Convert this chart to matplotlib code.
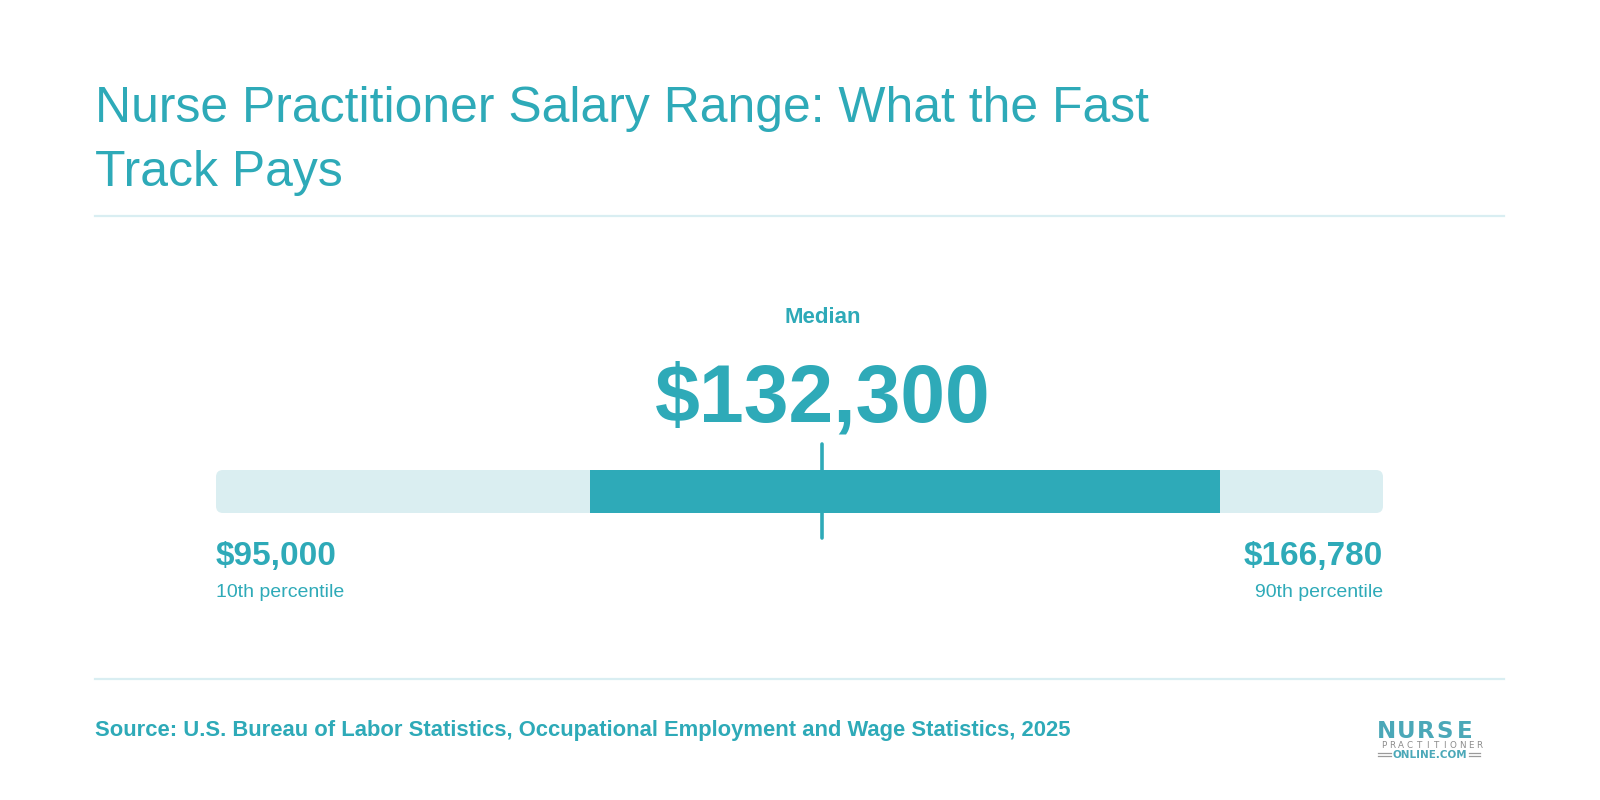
import matplotlib
matplotlib.use("Agg")
import matplotlib.pyplot as plt
from matplotlib.patches import FancyBboxPatch
from matplotlib.lines import Line2D
from matplotlib.transforms import blended_transform_factory

# wage percentiles (annual, USD)
pct_names = ["10th percentile", "Median", "90th percentile"]
pct_values = [95000, 132300, 166780]
# 25th / 75th percentile (not labelled)
iqr_values = [118000, 156750]

title_lines = ["Nurse Practitioner Salary Range: What the Fast", "Track Pays"]
source_text = "Source: U.S. Bureau of Labor Statistics, Occupational Employment and Wage Statistics, 2025"

TEAL = "#2eaab8"
LIGHT = "#daeef1"
RULE = "#d9eef2"
LOGO_TEAL = "#4ba8b8"
LOGO_GREY = "#8c8c8c"

plt.rcParams["font.family"] = ["Liberation Sans", "DejaVu Sans"]

W, H = 1600, 800
fig = plt.figure(figsize=(16, 8), dpi=100)
fig.patch.set_facecolor("white")


def fx(px):
    return px / W


def fy(py):
    return 1 - py / H


def spaced(word, x0, x1, py, **kw):
    # spread letters evenly between x0 and x1 (pixels)
    step = (x1 - x0) / len(word)
    for i, ch in enumerate(word):
        fig.text(fx(x0 + step * (i + 0.5)), fy(py), ch, ha="center", va="baseline",
                 family="DejaVu Sans", **kw)


# title
fig.text(fx(95), fy(122), title_lines[0], fontsize=35.9, color=TEAL, va="baseline")
fig.text(fx(95), fy(186), title_lines[1], fontsize=35.9, color=TEAL, va="baseline")

# divider rules
for py in (216, 679):
    fig.add_artist(Line2D([fx(95), fx(1504)], [fy(py), fy(py)], color=RULE, lw=1.6))

# bar axes
left_px, right_px = 216, 1383
ax = fig.add_axes([fx(left_px), fy(540), (right_px - left_px) / W, 100 / H])
p10, med, p90 = pct_values
ax.set_xlim(p10, p90)
ax.set_ylim(100, 0)
ax.axis("off")

x_per_px = (p90 - p10) / (right_px - left_px)
bar_top, bar_h = 30, 43
bg = FancyBboxPatch((p10, bar_top), p90 - p10, bar_h,
                    boxstyle="round,pad=0,rounding_size=%f" % (7 * x_per_px),
                    mutation_aspect=1 / x_per_px, fc=LIGHT, ec="none")
ax.add_patch(bg)
ax.barh(bar_top + bar_h / 2, iqr_values[1] - iqr_values[0], left=iqr_values[0],
        height=bar_h, color=TEAL, edgecolor="none")
ax.vlines(med, 4, 98, color=TEAL, lw=2.6, capstyle="round")

tr = blended_transform_factory(ax.transData, fig.transFigure)
ax.text(med, fy(323), pct_names[1], transform=tr, ha="center", va="baseline",
        fontsize=16, weight="bold", color=TEAL)
ax.text(med, fy(422), f"${med:,.0f}", transform=tr, ha="center", va="baseline",
        fontsize=58, weight="bold", color=TEAL)

ax.text(p10, fy(565), f"${p10:,.0f}", transform=tr, ha="left", va="baseline",
        fontsize=24, weight="bold", color=TEAL)
ax.text(p10, fy(597), pct_names[0], transform=tr, ha="left", va="baseline",
        fontsize=14, color=TEAL)
ax.text(p90, fy(565), f"${p90:,.0f}", transform=tr, ha="right", va="baseline",
        fontsize=24, weight="bold", color=TEAL)
ax.text(p90, fy(597), pct_names[2], transform=tr, ha="right", va="baseline",
        fontsize=14, color=TEAL)

# source
fig.text(fx(95), fy(736), source_text, fontsize=15.8, weight="bold", color=TEAL, va="baseline")

# logo
spaced("NURSE", 1377, 1474, 738, fontsize=16.5, weight="bold", color=LOGO_TEAL)
spaced("PRACTITIONER", 1379, 1484, 748.5, fontsize=6.3, color=LOGO_GREY)
fig.text(fx(1430), fy(757.5), "ONLINE.COM", fontsize=7.5, weight="bold", color=LOGO_TEAL,
         ha="center", va="baseline", family="DejaVu Sans")
for x0, x1 in ((1378, 1391), (1469, 1480)):
    for py in (752.5, 755.5):
        fig.add_artist(Line2D([fx(x0), fx(x1)], [fy(py), fy(py)], color="#9a9a9a", lw=0.9))

fig.savefig("out.png", dpi=100)
